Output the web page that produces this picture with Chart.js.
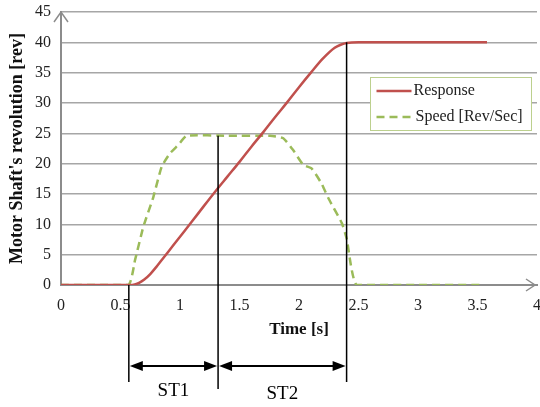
<!DOCTYPE html>
<html>
<head>
<meta charset="utf-8">
<script src="https://cdn.jsdelivr.net/npm/chart.js@4.4.1/dist/chart.umd.min.js"></script>
<style>
  html, body { margin: 0; padding: 0; background: #fff; }
  #wrap { width: 540px; height: 407px; }
</style>
</head>
<body>
<div id="wrap"><canvas id="chart" width="540" height="407"></canvas></div>
<script>
// ---- data ----
const responseTime = [0, 0.58, 0.62, 0.66, 0.7, 0.75, 0.8, 0.85, 0.9, 1.0, 1.1, 1.2, 1.3, 1.4, 1.5, 1.6, 1.7, 1.8, 1.9, 2.0, 2.1, 2.2, 2.3, 2.35, 2.4, 2.5, 3.0, 3.58];
const responseRev  = [0, 0, 0.1, 0.4, 0.9, 1.8, 2.95, 4.2, 5.45, 7.95, 10.45, 13.0, 15.5, 17.9, 20.3, 22.8, 25.2, 27.7, 30.1, 32.6, 35.0, 37.3, 39.1, 39.6, 39.9, 40, 40, 40];

const speedTime = [0, 0.566, 0.622, 0.692, 0.776, 0.846, 0.916, 0.986, 1.056, 1.4, 1.756, 1.868, 1.952, 2.036, 2.107, 2.19, 2.247, 2.36, 2.40, 2.485, 3.0, 3.52];
const speedRev  = [0, 0, 4.1, 9.6, 14.5, 19.5, 21.7, 23.1, 24.6, 24.6, 24.6, 24.2, 22.2, 19.8, 19.2, 16.7, 14.3, 10.2, 7.7, 0, 0, 0];

const seriesNames = ["Response", "Speed [Rev/Sec]"];

// step markers (time, value where the vertical line starts)
const markTime  = [0.57, 1.32, 2.40];
const markValue = [0, 24.6, 40];
const stepLabels = ["ST1", "ST2"];

const RED = "#C0504D";
const GREEN = "#9BBB59";
const SERIF = "'Liberation Serif', 'Times New Roman', serif";

Chart.defaults.font.family = SERIF;
Chart.defaults.color = "#222";

function pairs(xs, ys) {
  return xs.map((x, i) => ({ x: x, y: ys[i] }));
}

// =========================
// axis arrows
// =========================
const axisArrows = {
  id: "axisArrows",
  afterDraw(chart) {
    const { ctx, chartArea: a } = chart;
    ctx.save();
    ctx.strokeStyle = "#8c8c8c";
    ctx.lineWidth = 1.5;
    ctx.beginPath();
    ctx.moveTo(a.left - 7, a.top + 10);
    ctx.lineTo(a.left, a.top);
    ctx.lineTo(a.left + 7, a.top + 10);
    ctx.stroke();
    ctx.beginPath();
    ctx.moveTo(a.right - 11, a.bottom - 6);
    ctx.lineTo(a.right - 2, a.bottom);
    ctx.lineTo(a.right - 11, a.bottom + 6);
    ctx.stroke();
    ctx.restore();
  },
};

// =========================
// ST1 / ST2 markers
// =========================
function arrowHead(ctx, x, y, dir) {
  ctx.beginPath();
  ctx.moveTo(x, y);
  ctx.lineTo(x + dir * 13, y - 5);
  ctx.lineTo(x + dir * 13, y + 5);
  ctx.closePath();
  ctx.fill();
}

const stepMarks = {
  id: "stepMarks",
  afterDraw(chart) {
    const { ctx } = chart;
    const xs = chart.scales.x, ys = chart.scales.y;
    const base = ys.getPixelForValue(0);
    const depth = [97, 104, 97];
    const px = markTime.map((t) => xs.getPixelForValue(t));
    ctx.save();
    ctx.strokeStyle = "#000";
    ctx.fillStyle = "#000";
    ctx.lineWidth = 1.5;
    px.forEach((x, i) => {
      ctx.beginPath();
      ctx.moveTo(x, ys.getPixelForValue(markValue[i]));
      ctx.lineTo(x, base + depth[i]);
      ctx.stroke();
    });
    const ay = base + 81;
    ctx.lineWidth = 2;
    ctx.font = "19px " + SERIF;
    ctx.textAlign = "center";
    ctx.textBaseline = "middle";
    stepLabels.forEach((lab, i) => {
      const x0 = px[i] + 1, x1 = px[i + 1] - 1;
      ctx.beginPath();
      ctx.moveTo(x0 + 6, ay);
      ctx.lineTo(x1 - 6, ay);
      ctx.stroke();
      arrowHead(ctx, x0, ay, 1);
      arrowHead(ctx, x1, ay, -1);
      ctx.fillText(lab, (px[i] + px[i + 1]) / 2, base + 106 + i * 3);
    });
    ctx.restore();
  },
};

// =========================
// legend box inside the plot
// =========================
const boxLegend = {
  id: "boxLegend",
  afterDraw(chart) {
    const { ctx } = chart;
    const bx = 370.5, by = 77.5, bw = 161, bh = 53;
    ctx.save();
    ctx.fillStyle = "#fff";
    ctx.fillRect(bx, by, bw, bh);
    ctx.strokeStyle = "#bcd08e";
    ctx.lineWidth = 1;
    ctx.strokeRect(bx, by, bw, bh);
    ctx.font = "16px " + SERIF;
    ctx.textBaseline = "middle";
    chart.data.datasets.forEach((ds, i) => {
      const y = by + 13.5 + i * 26;
      ctx.strokeStyle = ds.borderColor;
      ctx.lineWidth = ds.borderWidth;
      ctx.setLineDash(ds.borderDash || []);
      ctx.beginPath();
      ctx.moveTo(bx + 6, y);
      ctx.lineTo(bx + 41, y);
      ctx.stroke();
      ctx.setLineDash([]);
      ctx.fillStyle = "#222";
      ctx.fillText(ds.label, bx + 43 + i * 2, y);
    });
    ctx.restore();
  },
};

// =========================
// chart
// =========================
new Chart(document.getElementById("chart"), {
  type: "line",
  data: {
    datasets: [
      {
        label: seriesNames[0],
        data: pairs(responseTime, responseRev),
        borderColor: RED,
        borderWidth: 2.5,
        pointRadius: 0,
        cubicInterpolationMode: "monotone",
      },
      {
        label: seriesNames[1],
        data: pairs(speedTime, speedRev),
        borderColor: GREEN,
        borderWidth: 2.5,
        borderDash: [8, 5],
        pointRadius: 0,
        tension: 0.15,
      },
    ],
  },
  options: {
    responsive: false,
    animation: false,
    devicePixelRatio: 1,
    layout: { padding: 0 },
    plugins: { legend: { display: false }, tooltip: { enabled: false } },
    scales: {
      x: {
        type: "linear",
        min: 0,
        max: 4,
        ticks: {
          stepSize: 0.5,
          padding: 11,
          font: { size: 16 },
          color: "#222",
          callback: (v) => String(v),
        },
        grid: { display: false, drawTicks: false },
        border: { display: true, color: "#8c8c8c", width: 2 },
        title: {
          display: true,
          text: "Time [s]",
          font: { size: 17, weight: "bold" },
          color: "#111",
          padding: { top: 6, bottom: 67 },
        },
        afterFit: (s) => { s.height = 122; s.paddingRight = 3; },
      },
      y: {
        min: 0,
        max: 45,
        ticks: { stepSize: 5, padding: 10, font: { size: 16 }, color: "#222" },
        grid: { color: "#a6a6a6", lineWidth: 1.5, drawTicks: false },
        border: { display: true, color: "#8c8c8c", width: 2 },
        title: {
          display: true,
          text: "Motor Shaft's revolution [rev]",
          font: { size: 18, weight: "bold" },
          color: "#111",
          padding: { top: 7, bottom: 4 },
        },
        afterFit: (s) => { s.width = 61; s.paddingTop = 12; },
      },
    },
  },
  plugins: [axisArrows, stepMarks, boxLegend],
});
</script>
</body>
</html>
